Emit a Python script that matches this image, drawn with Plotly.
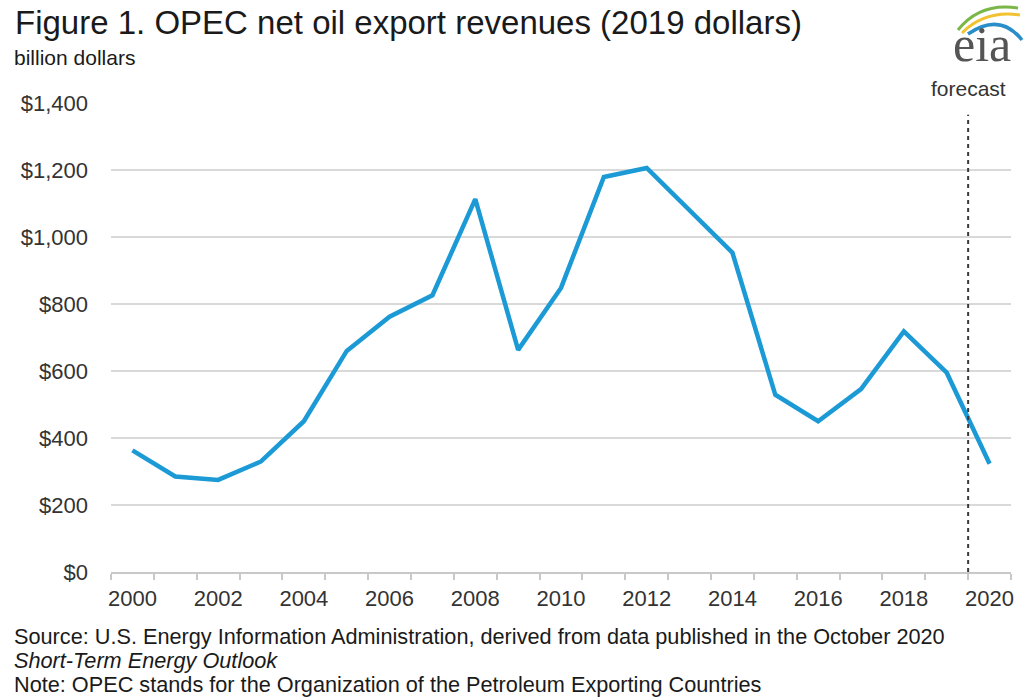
import plotly.graph_objects as go

years = list(range(2000, 2021))
revenues = [363, 285, 275, 330, 450, 660, 762, 826, 1113, 663, 848, 1179, 1206, 1080, 953, 529, 450, 546, 718, 595, 323]
forecast_start = 2019.5
y_ticks = [0, 200, 400, 600, 800, 1000, 1200, 1400]
y_ticklabels = ["$" + format(v, ",") for v in y_ticks]
x_ticks = list(range(2000, 2021, 2))

title_text = "Figure 1. OPEC net oil export revenues (2019 dollars)"
unit_text = "billion dollars"
source_lines = [
    "Source: U.S. Energy Information Administration, derived from data published in the October 2020",
    "<i>Short-Term Energy Outlook</i>",
    "Note: OPEC stands for the Organization of the Petroleum Exporting Countries",
]

FONT = "Liberation Sans, Arial, sans-serif"
W, H = 1029, 698
L, R, T, B = 111, 18, 103, 126
pw, ph = W - L - R, H - T - B


def px(x):
    return (x - L) / pw


def py(y):
    return (H - y - B) / ph


fig = go.Figure()
fig.add_trace(go.Scatter(
    x=years, y=revenues, mode="lines",
    line=dict(color="#1b9ad6", width=4.5),
    showlegend=False, hoverinfo="x+y",
))

fig.add_shape(type="line", xref="x", yref="y", x0=forecast_start, x1=forecast_start,
              y0=0, y1=1365, line=dict(color="#3a3a3a", width=2, dash="4px,4px"))
fig.add_annotation(x=forecast_start, y=py(89), xref="x", yref="paper",
                   text="forecast", showarrow=False, yanchor="middle",
                   font=dict(family=FONT, size=21, color="#333333"))

fig.update_layout(
    width=W, height=H,
    margin=dict(l=L, r=R, t=T, b=B),
    paper_bgcolor="white", plot_bgcolor="white",
    font=dict(family=FONT, color="#333333"),
    xaxis=dict(
        range=[1999.5, 2020.5], tickvals=x_ticks, ticks="", showgrid=False,
        showline=True, linecolor="#c8c8c8", linewidth=2,
        tickfont=dict(size=22, color="#333333"), ticklabelstandoff=6,
        minor=dict(tick0=1999.5, dtick=1, ticks="outside", ticklen=6,
                   tickcolor="#c8c8c8", tickwidth=1.5, showgrid=False),
        zeroline=False,
    ),
    yaxis=dict(
        range=[0, 1400], tickmode="array", tickvals=y_ticks, ticktext=y_ticklabels,
        showgrid=True, gridcolor="#d9d9d9", gridwidth=2, zeroline=False,
        showline=False, ticks="",
        tickfont=dict(size=22, color="#333333"), ticklabelstandoff=22,
    ),
)

fig.add_annotation(x=px(13), y=py(23), xref="paper", yref="paper", text=title_text,
                   showarrow=False, xanchor="left", yanchor="middle",
                   font=dict(family=FONT, size=33, color="#1a1a1a"))
fig.add_annotation(x=px(12), y=py(58), xref="paper", yref="paper", text=unit_text,
                   showarrow=False, xanchor="left", yanchor="middle",
                   font=dict(family=FONT, size=21, color="#1a1a1a"))
for i, line in enumerate(source_lines):
    fig.add_annotation(x=px(12), y=py(636 + 24 * i), xref="paper", yref="paper", text=line,
                       showarrow=False, xanchor="left", yanchor="middle",
                       font=dict(family=FONT, size=21.7, color="#1a1a1a"))

# eia logo
fig.add_annotation(x=px(982), y=py(44), xref="paper", yref="paper", text="eia",
                   showarrow=False, xanchor="center", yanchor="middle",
                   font=dict(family="Liberation Serif, serif", size=50, color="#555555"))


def logo_path(pts):
    (x0, y0), (cx, cy), (x1, y1) = pts
    return f"M {px(x0):.4f},{py(y0):.4f} Q {px(cx):.4f},{py(cy):.4f} {px(x1):.4f},{py(y1):.4f}"


fig.add_shape(type="path", xref="paper", yref="paper",
              path=logo_path([(958, 30), (980, 2), (1018, 8)]), line=dict(color="#7ab648", width=3))
fig.add_shape(type="path", xref="paper", yref="paper",
              path=logo_path([(962, 33), (985, 10), (1020, 15)]), line=dict(color="#f2c230", width=3))
fig.add_shape(type="path", xref="paper", yref="paper",
              path=logo_path([(968, 34), (1000, 12), (1022, 40)]), line=dict(color="#2a8fc8", width=3.5))

fig.write_html("out.html")
